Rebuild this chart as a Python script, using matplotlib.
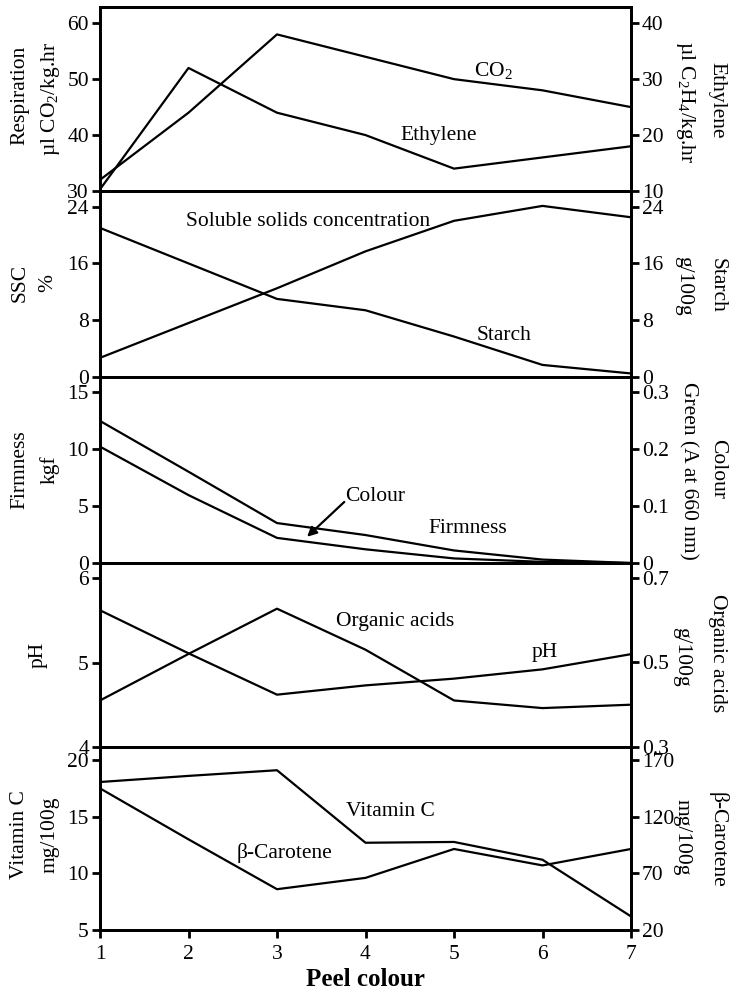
import matplotlib
matplotlib.use('Agg')
import matplotlib.pyplot as plt

plt.rcParams['font.family'] = ['Liberation Serif', 'DejaVu Serif']
plt.rcParams['mathtext.fontset'] = 'custom'
plt.rcParams['mathtext.rm'] = 'Liberation Serif'
plt.rcParams['mathtext.it'] = 'Liberation Serif:italic'

peel = [1, 2, 3, 4, 5, 6, 7]

# respiration / ethylene
co2 = [32, 44, 58, 54, 50, 48, 45]
ethylene = [10.3, 32, 24, 20, 14, 16, 18]
# soluble solids / starch
ssc = [2.7, 7.6, 12.5, 17.7, 22, 24.1, 22.5]
starch = [21, 16, 11, 9.4, 5.7, 1.7, 0.5]
# firmness / colour
firmness = [12.45, 8.0, 3.5, 2.45, 1.1, 0.3, 0.0]
colour = [0.204, 0.119, 0.044, 0.024, 0.008, 0.002, 0.0]
# pH / organic acids
ph = [5.62, 5.11, 4.62, 4.73, 4.81, 4.92, 5.1]
acids = [0.41, 0.52, 0.627, 0.53, 0.41, 0.392, 0.40]
# vitamin C / beta carotene
vitc = [18.06, 18.6, 19.1, 12.7, 12.77, 11.2, 6.2]
carotene = [145, 100, 56, 66, 91.5, 77, 91.5]

FS = 15.5
LW = 1.6

fig = plt.figure(figsize=(7.32, 9.93), dpi=100)
W, H = 732.0, 993.0
left, right = 100 / W, 631 / W
edges = [7, 191, 377, 563, 747, 930]  # pixel rows of panel borders


def make_panel(i):
    top, bot = edges[i], edges[i + 1]
    ax = fig.add_axes([left, 1 - bot / H, right - left, (bot - top) / H])
    ax2 = ax.twinx()
    for a in (ax, ax2):
        for s in a.spines.values():
            s.set_linewidth(2)
        a.tick_params(width=2, length=6, labelsize=FS, pad=2)
    ax.set_xlim(1, 7)
    ax.set_xticks(peel)
    if i < 4:
        ax.tick_params(axis='x', bottom=False, labelbottom=False)
    return ax, ax2


def ylab(x_px, y_px, txt, rot):
    fig.text(x_px / W, 1 - y_px / H, txt, rotation=rot, ha='center', va='center', fontsize=FS)


# panel 1
ax, ax2 = make_panel(0)
ax.plot(peel, co2, color='black', lw=LW)
ax2.plot(peel, ethylene, color='black', lw=LW)
ax.set_ylim(30, 62.9)
ax.set_yticks([30, 40, 50, 60])
ax2.set_ylim(10, 42.9)
ax2.set_yticks([10, 20, 30, 40])
ax.text(5.23, 50.5, r'CO$_\mathrm{2}$', fontsize=FS)
ax.text(4.4, 39.1, 'Ethylene', fontsize=FS)
ylab(20, 95, 'Respiration', 90)
ylab(50, 99, r'µl CO$_\mathrm{2}$/kg.hr', 90)
ylab(686, 102, r'µl C$_\mathrm{2}$H$_\mathrm{4}$/kg.hr', 270)
ylab(717, 100, 'Ethylene', 270)

# panel 2
ax, ax2 = make_panel(1)
ax.plot(peel, ssc, color='black', lw=LW)
ax2.plot(peel, starch, color='black', lw=LW)
ax.set_ylim(0, 26.2)
ax.set_yticks([0, 8, 16, 24])
ax2.set_ylim(0, 26.2)
ax2.set_yticks([0, 8, 16, 24])
ax.text(3.35, 21.3, 'Soluble solids concentration', fontsize=FS, ha='center')
ax.text(5.25, 5.2, 'Starch', fontsize=FS)
ylab(20, 283, 'SSC', 90)
ylab(48, 283, '%', 90)
ylab(684, 286, 'g/100g', 270)
ylab(717, 285, 'Starch', 270)

# panel 3
ax, ax2 = make_panel(2)
ax.plot(peel, firmness, color='black', lw=LW)
ax2.plot(peel, colour, color='black', lw=LW)
ax.set_ylim(0, 16.3)
ax.set_yticks([0, 5, 10, 15])
ax2.set_ylim(0, 0.326)
ax2.set_yticks([0, 0.1, 0.2, 0.3])
ax2.set_yticklabels(['0', '0.1', '0.2', '0.3'])
ax.text(5.16, 2.6, 'Firmness', fontsize=FS, ha='center')
ax.text(3.77, 5.8, 'Colour', fontsize=FS, ha='left', va='center')
ax.annotate('', xy=(3.34, 2.3), xytext=(3.76, 5.35),
            arrowprops=dict(arrowstyle='-|>', color='black', lw=1.6, shrinkA=0, shrinkB=0,
                            mutation_scale=14))
ylab(20, 470, 'Firmness', 90)
ylab(50, 470, 'kgf', 90)
ylab(688, 471, 'Green (A at 660 nm)', 270)
ylab(718, 469, 'Colour', 270)

# panel 4
ax, ax2 = make_panel(3)
ax.plot(peel, ph, color='black', lw=LW)
ax2.plot(peel, acids, color='black', lw=LW)
ax.set_ylim(4, 6.18)
ax.set_yticks([4, 5, 6])
ax2.set_ylim(0.3, 0.735)
ax2.set_yticks([0.3, 0.5, 0.7])
ax.text(4.33, 5.43, 'Organic acids', fontsize=FS, ha='center')
ax.text(6.03, 5.07, 'pH', fontsize=FS, ha='center')
ylab(38, 655, 'pH', 90)
ylab(682, 657, 'g/100g', 270)
ylab(718, 653, 'Organic acids', 270)

# panel 5
ax, ax2 = make_panel(4)
ax.plot(peel, vitc, color='black', lw=LW)
ax2.plot(peel, carotene, color='black', lw=LW)
ax.set_ylim(5, 21.15)
ax.set_yticks([5, 10, 15, 20])
ax2.set_ylim(20, 181.5)
ax2.set_yticks([20, 70, 120, 170])
ax.text(4.28, 15.06, 'Vitamin C', fontsize=FS, ha='center')
ax.text(3.09, 11.35, 'β-Carotene', fontsize=FS, ha='center')
ax.tick_params(axis='x', pad=5)
ax.set_xlabel('Peel colour', fontsize=18, fontweight='bold', labelpad=3)
ylab(20, 835, 'Vitamin C', 90)
ylab(50, 835, 'mg/100g', 90)
ylab(682, 837, 'mg/100g', 270)
ylab(718, 840, 'β-Carotene', 270)

fig.savefig('out.png', dpi=100)
plt.close(fig)
